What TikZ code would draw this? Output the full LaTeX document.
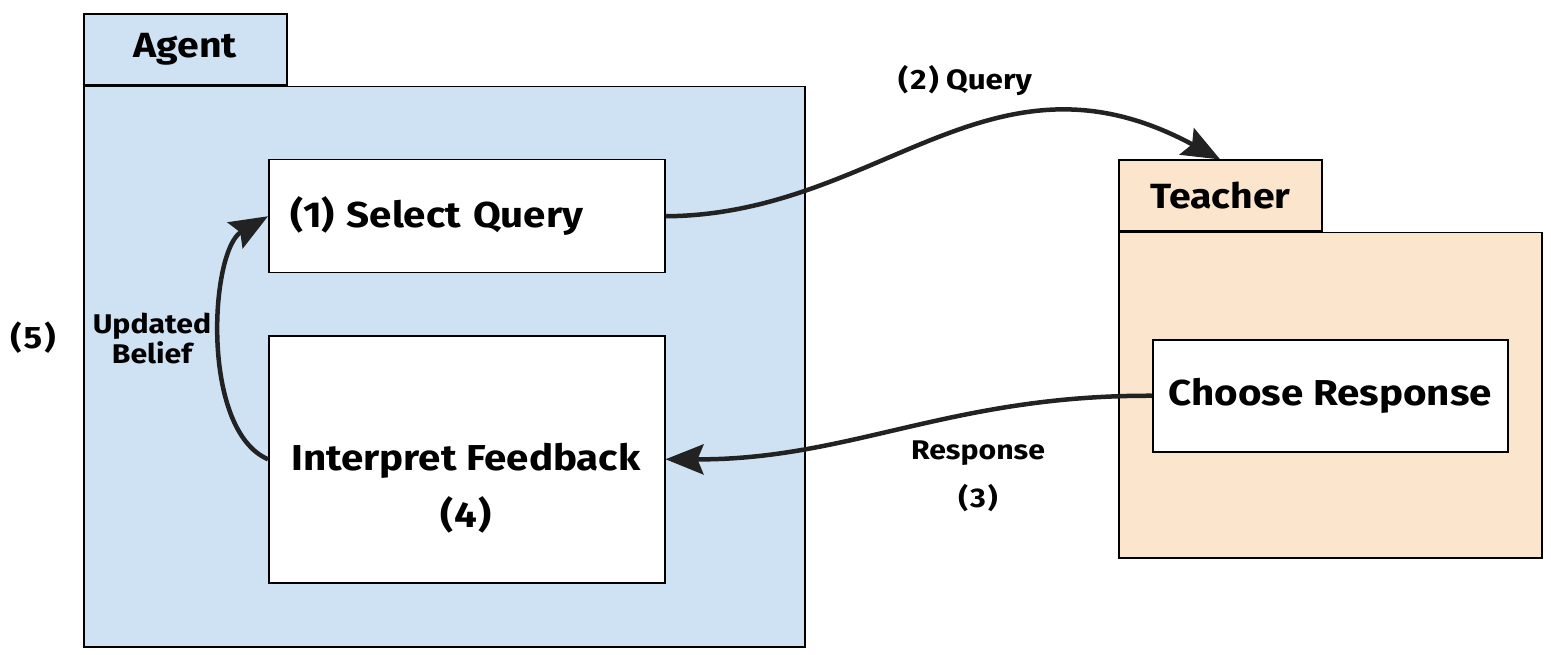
\documentclass[tikz,border=0pt]{standalone}
\usepackage{fontspec}
\setmainfont{Fira Sans}[FakeStretch=1.12]
\usetikzlibrary{arrows.meta}
\definecolor{agentblue}{HTML}{CFE2F3}
\definecolor{teacherpeach}{HTML}{FCE5CD}
\definecolor{flowgray}{HTML}{222222}

\begin{document}
\begin{tikzpicture}[x=1pt, y=-1pt,
    pkg/.style={draw, line width=1.5pt, inner sep=0pt},
    pkgtab/.style={pkg, font=\fontsize{35}{40}\selectfont\bfseries},
    stepbox/.style={draw, fill=white, line width=1.5pt, font=\fontsize{36}{40}\selectfont\bfseries},
    flow/.style={line width=4.5pt, flowgray, -{Stealth[length=38pt, width=30pt, inset=6pt]}},
    flowlabel/.style={font=\fontsize{27}{30}\selectfont\bfseries, align=center}]
    \useasboundingbox (0,0) rectangle (1551,655);

    % Agent package
    \node[pkg, fill=agentblue, minimum width=721, minimum height=560, anchor=north west] (agent) at (83,86) {};
    \node[pkgtab, fill=agentblue, minimum width=203, minimum height=71, anchor=south west] (agenttab) at (agent.north west) {Agent};

    % Teacher package
    \node[pkg, fill=teacherpeach, minimum width=423, minimum height=325, anchor=north west] (teacher) at (1118,232) {};
    \node[pkgtab, fill=teacherpeach, minimum width=203, minimum height=71, anchor=south west] (teachertab) at (teacher.north west) {Teacher};

    % Steps
    \node[stepbox, text width=352, inner xsep=22, minimum height=113, align=left, anchor=north west] (select) at (268,159) {(1) Select Query};
    \node[stepbox, minimum width=396, minimum height=247, anchor=north west] (interp) at (268,335) {};
    \node[font=\fontsize{36}{57}\selectfont\bfseries, align=center] (interptext) at (466,488) {Interpret Feedback\\(\kern1pt4\kern1pt)};
    \node[stepbox, minimum width=355, minimum height=112, anchor=north west] (choose) at (1152,339) {Choose Response};

    % Flows
    \draw[flow] (select.east) .. controls (880,215) and (990,35) .. (teachertab.north);
    \draw[flow] (choose.west) .. controls (950,395) and (850,460) .. (interp.east);
    \draw[flow] (interp.west) .. controls (200,430) and (210,250) .. (select.west);

    % Labels
    \node[flowlabel, font=\fontsize{28}{30}\selectfont\bfseries] (querylabel) at (965,81) {(\kern2pt2\kern2pt) Query};
    \node[flowlabel, font=\fontsize{27}{48}\selectfont\bfseries] (responselabel) at (978,476) {Response\\(\kern2pt3\kern2pt)};
    \node[flowlabel] (beliefLabel) at (152,338) {Updated\\Belief};
    \node[flowlabel, font=\fontsize{31}{36}\selectfont\bfseries] (looplabel) at (33,338) {(\kern2pt5\kern2pt)};
\end{tikzpicture}
\end{document}
